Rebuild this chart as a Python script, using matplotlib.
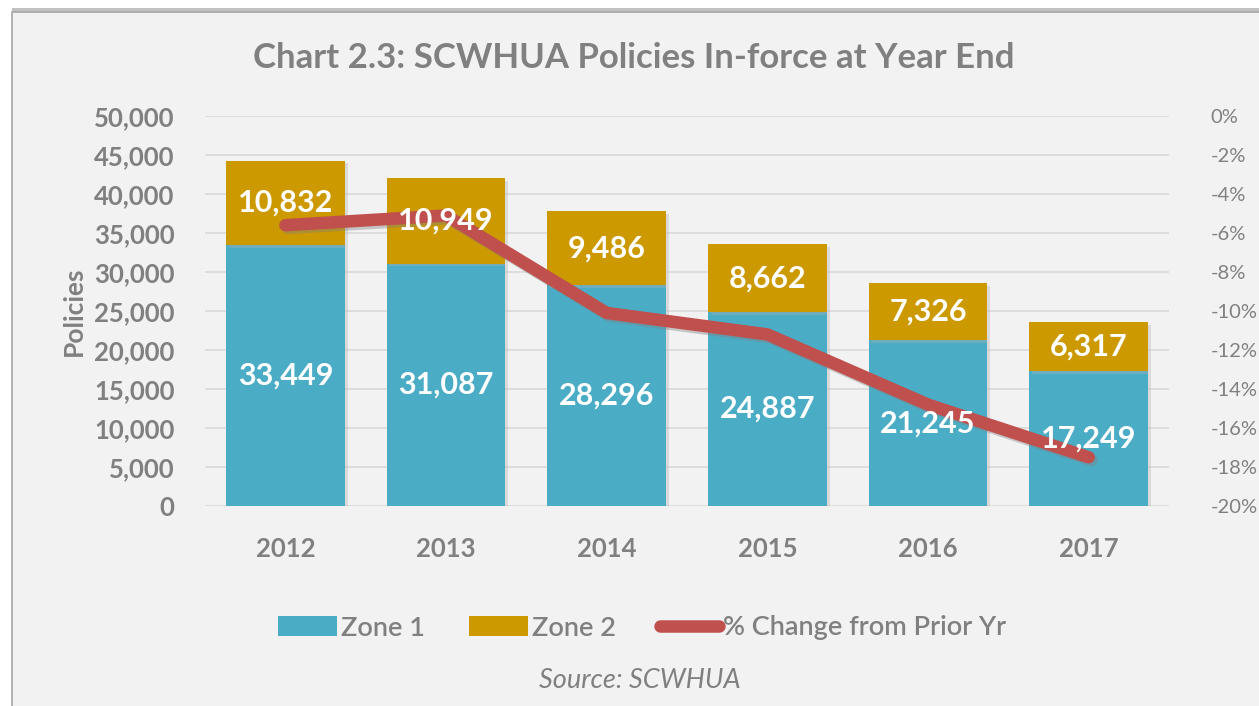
import matplotlib.pyplot as plt
import matplotlib.patheffects as pe
from matplotlib.patches import Rectangle, Patch
from matplotlib.lines import Line2D
import numpy as np

plt.rcParams['font.family'] = ['Lato', 'DejaVu Sans']

years = ['2012', '2013', '2014', '2015', '2016', '2017']
zone1 = [33449, 31087, 28296, 24887, 21245, 17249]
zone2 = [10832, 10949, 9486, 8662, 7326, 6317]
pct_change = [-5.6, -5.1, -10.1, -11.2, -14.8, -17.5]

blue = '#4BACC6'
gold = '#CC9900'
red = '#C0504D'
gray = '#808080'
bg = '#F2F2F2'

fig = plt.figure(figsize=(12.59, 7.06), dpi=100, facecolor='white')

# chart frame with a soft shadow
frame = Rectangle((12 / 1259, -0.02), 1.02, 1 - 12 / 706 + 0.02, transform=fig.transFigure,
                  facecolor=bg, edgecolor='#A6A6A6', lw=1.2, zorder=-5,
                  path_effects=[pe.SimplePatchShadow(offset=(0, 3), shadow_rgbFace='#9A9A9A', alpha=0.6),
                                pe.Normal()])
fig.patches.append(frame)

ax = fig.add_axes([205 / 1259, 1 - 506 / 706, (1169 - 205) / 1259, (506 - 116) / 706])
ax.patch.set_visible(False)
ax2 = ax.twinx()
ax2.patch.set_visible(False)

x = np.arange(len(years))
w = 0.74
shadow = [pe.SimplePatchShadow(offset=(2, -2), shadow_rgbFace='#B0B0B0', alpha=0.35), pe.Normal()]
b1 = ax.bar(x, zone1, w, color=blue, zorder=3, path_effects=shadow)
b2 = ax.bar(x, zone2, w, bottom=zone1, color=gold, zorder=3, path_effects=shadow)

ax.set_xlim(-0.5, len(years) - 0.5)
ax.set_ylim(0, 50000)
ax.set_yticks(range(0, 50001, 5000))
ax.set_yticklabels([f'{v:,}' for v in range(0, 50001, 5000)])
ax.yaxis.grid(True, color='#D9D9D9', lw=1.2, zorder=0)
ax.set_axisbelow(True)
ax.set_xticks(x)
ax.set_xticklabels(years)
for s in ax.spines.values():
    s.set_visible(False)
for s in ax2.spines.values():
    s.set_visible(False)
ax.tick_params(axis='both', length=0, colors=gray, labelsize=18.5)
ax.tick_params(axis='y', pad=22)
ax.tick_params(axis='x', pad=22)
for t in ax.get_yticklabels() + ax.get_xticklabels():
    t.set_fontweight('bold')
ax.set_ylabel('Policies', color=gray, fontsize=19, fontweight='bold', labelpad=6)

ax2.plot(x, pct_change, color=red, lw=9, solid_capstyle='round', solid_joinstyle='round', zorder=4,
         path_effects=[pe.SimpleLineShadow(offset=(2, -2), shadow_color='#808080', alpha=0.4), pe.Normal()])
ax2.set_ylim(-20, 0)
ax2.set_yticks(range(-20, 1, 2))
ax2.set_yticklabels([f'{v}%' for v in range(-20, 1, 2)])
ax2.tick_params(axis='y', length=0, colors=gray, labelsize=14.5, pad=30)

# data labels on top of everything
for i in range(len(years)):
    ax2.text(x[i], zone1[i] / 2, f'{zone1[i]:,}', transform=ax.transData, ha='center', va='center',
             color='white', fontsize=22, fontweight='bold', zorder=6)
    ax2.text(x[i], zone1[i] + zone2[i] / 2, f'{zone2[i]:,}', transform=ax.transData, ha='center',
             va='center', color='white', fontsize=22, fontweight='bold', zorder=6)

fig.text(0.503, 1 - 58 / 706, 'Chart 2.3: SCWHUA Policies In-force at Year End', ha='center', va='center',
         color=gray, fontsize=25, fontweight='bold')

handles = [Patch(facecolor=blue, label='Zone 1'),
           Patch(facecolor=gold, label='Zone 2'),
           Line2D([0], [0], color=red, lw=9, solid_capstyle='round', label='% Change from Prior Yr')]
leg = fig.legend(handles=handles, loc='center', bbox_to_anchor=(0.51, 1 - 628 / 706), ncol=3, frameon=False,
                 fontsize=19.5, handlelength=2.2, handleheight=0.8, handletextpad=0.15, columnspacing=1.6)
for t in leg.get_texts():
    t.set_color(gray)
    t.set_fontweight('semibold')

fig.text(0.508, 1 - 680 / 706, 'Source: SCWHUA', ha='center', va='center', color=gray,
         fontsize=19.5, style='italic')

fig.savefig('out.png', dpi=100, facecolor=fig.get_facecolor())
